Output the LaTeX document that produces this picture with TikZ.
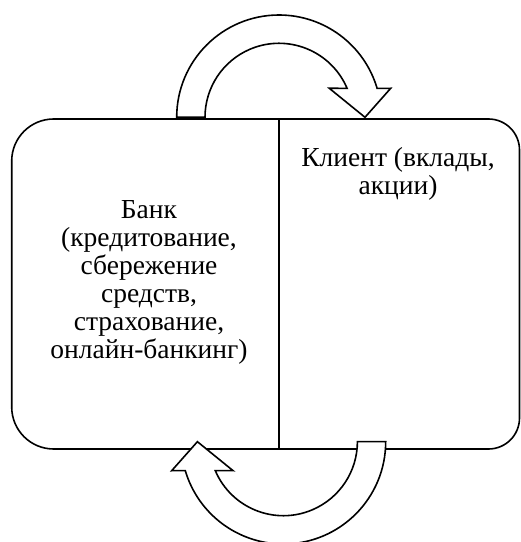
\documentclass[tikz,border=0pt]{standalone}
\usepackage{fontspec}
\setmainfont{Liberation Serif}
\usetikzlibrary{calc}
\tikzset{
  boxline/.style={line width=1.6pt},
  arrowshape/.style={line width=1.6pt, fill=white, line join=miter},
  txt/.style={inner sep=0pt, align=center, font=\fontsize{27.5}{28}\selectfont}
}
\begin{document}
\begin{tikzpicture}[x=1pt,y=1pt]
\useasboundingbox (0,0) rectangle (521,542);
% boxes
\draw[boxline, rounded corners=42pt] (279,423) -- (11.7,423) -- (11.7,93) -- (279,93);
\draw[boxline, rounded corners=31pt] (279,423) -- (519.5,423) -- (519.5,93) -- (279,93);
\draw[boxline] (279,423) -- (279,93);
% texts
\node[txt, anchor=center] (bank) at (149,260) {Банк\\(кредитование,\\сбережение\\средств,\\страхование,\\онлайн-банкинг)};
\node[txt, anchor=center] (client) at (398,368.5) {Клиент (вклады,\\акции)};
% top arrow
\coordinate (ca) at (279,424.7);
\draw[arrowshape] ($(ca)+(180:102.3)$) arc[start angle=180, end angle=16.4, radius=102.3]
  -- (390.7,453.7) -- (365,424.7) -- (329.3,453.7) -- ($(ca)+(23.07:74)$)
  arc[start angle=23.07, end angle=180, radius=74] -- cycle;
% bottom arrow (top arrow turned round)
\begin{scope}[rotate around={180:(281.2,262.5)}]
\coordinate (cb) at (279,424.7);
\draw[arrowshape] ($(cb)+(180:102.3)$) arc[start angle=180, end angle=16.4, radius=102.3]
  -- (390.7,453.7) -- (365,424.7) -- (329.3,453.7) -- ($(cb)+(23.07:74)$)
  arc[start angle=23.07, end angle=180, radius=74] -- cycle;
\end{scope}
\end{tikzpicture}
\end{document}
